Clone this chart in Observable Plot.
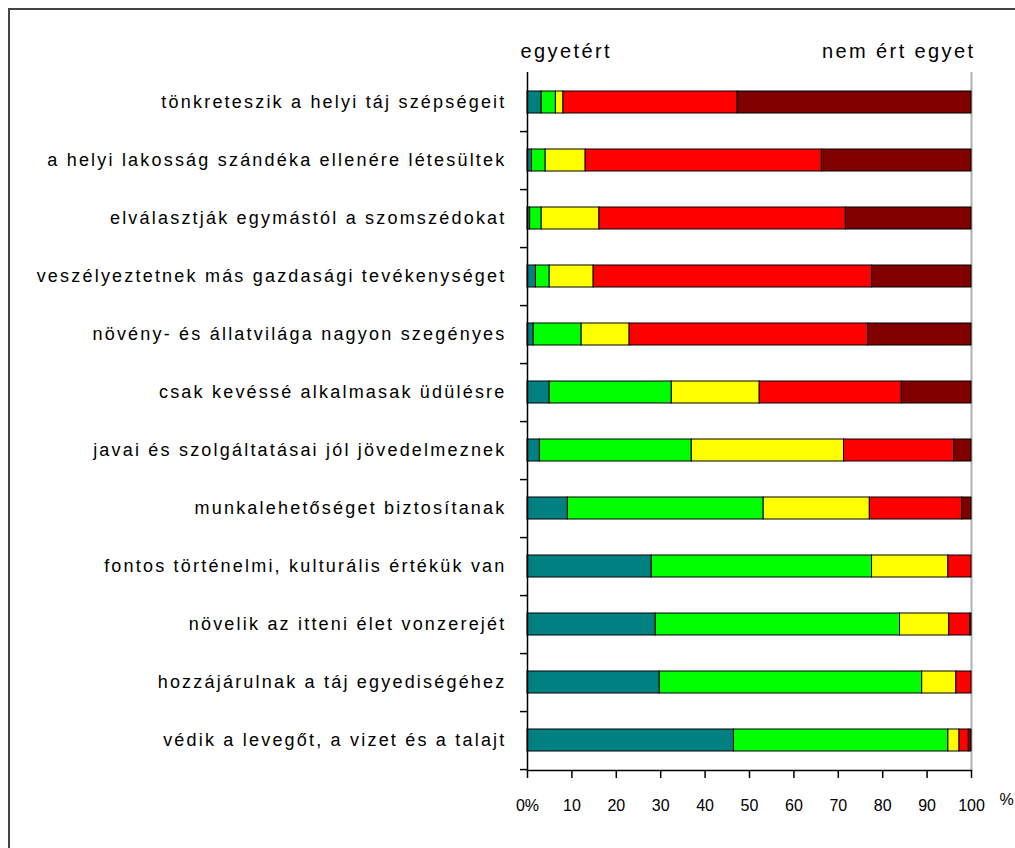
<!DOCTYPE html>
<html><head><meta charset="utf-8">
<script src="https://cdn.jsdelivr.net/npm/d3@7"></script>
<script src="https://cdn.jsdelivr.net/npm/@observablehq/plot@0.6"></script>
<style>
body{margin:0;background:#fff;overflow:hidden;}
#wrap{position:relative;width:1015px;height:848px;overflow:hidden;}
#border{position:absolute;left:8px;top:8px;width:1100px;height:900px;border:2px solid #444;box-sizing:border-box;}
#chart{position:absolute;left:0;top:0;}
</style></head><body><div id="wrap"><div id="border"></div><div id="chart"></div></div>
<script>
const categories = [
  "tönkreteszik a helyi táj szépségeit",
  "a helyi lakosság szándéka ellenére létesültek",
  "elválasztják egymástól a szomszédokat",
  "veszélyeztetnek más gazdasági tevékenységet",
  "növény- és állatvilága nagyon szegényes",
  "csak kevéssé alkalmasak üdülésre",
  "javai és szolgáltatásai jól jövedelmeznek",
  "munkalehetőséget biztosítanak",
  "fontos történelmi, kulturális értékük van",
  "növelik az itteni élet vonzerejét",
  "hozzájárulnak a táj egyediségéhez",
  "védik a levegőt, a vizet és a talajt"
];
const seriesNames = ["1", "2", "3", "4", "5"];
const s1 = [3.2, 1.0, 0.6, 1.9, 1.4, 5.0, 2.8, 9.1, 28.0, 28.9, 29.8, 46.5];
const s2 = [3.2, 3.1, 2.6, 3.1, 10.8, 27.5, 34.2, 44.1, 49.6, 55.0, 59.1, 48.3];
const s3 = [1.7, 9.0, 13.0, 9.9, 10.8, 19.8, 34.3, 23.9, 17.2, 11.1, 7.7, 2.5];
const s4 = [39.2, 53.2, 55.5, 62.7, 53.7, 32.0, 24.8, 20.8, 5.2, 4.7, 3.4, 2.1];
const s5 = [52.7, 33.7, 28.3, 22.4, 23.3, 15.7, 3.9, 2.1, 0, 0.3, 0, 0.6];
const colors = ["#008080", "#00ff00", "#ffff00", "#ff0000", "#800000"];
const xTicks = [0, 10, 20, 30, 40, 50, 60, 70, 80, 90, 100];
const xTickLabels = ["0%", "10", "20", "30", "40", "50", "60", "70", "80", "90", "100"];
const headerLeft = "egyetért";
const headerRight = "nem ért egyet";
const unitLabel = "%";

const series = [s1, s2, s3, s4, s5];
const rows = [];
categories.forEach((c, i) => series.forEach((s, j) => {
  if (s[i] > 0) rows.push({cat: c, series: seriesNames[j], value: s[i]});
}));

const marginTop = 72, marginBottom = 78, H = 848;
const step = (H - marginTop - marginBottom) / categories.length;

const chart = Plot.plot({
  width: 1015, height: H,
  marginLeft: 527, marginRight: 44, marginTop, marginBottom,
  style: {fontFamily: "'Liberation Sans', Arial, sans-serif", color: "#000", background: "transparent", overflow: "visible"},
  x: {domain: [0, 100]},
  y: {domain: categories, paddingInner: 0.62, paddingOuter: 0.31},
  color: {domain: seriesNames, range: colors},
  marks: [
    Plot.ruleX([100], {stroke: "#b0b0b0", strokeWidth: 2}),
    Plot.barX(rows, Plot.stackX({y: "cat", x: "value", fill: "series", stroke: "#000", strokeWidth: 1})),
    Plot.ruleX([0], {stroke: "#000", strokeWidth: 1.5}),
    Plot.frame({anchor: "bottom", stroke: "#000", strokeWidth: 1.5}),
    Plot.axisY({tickSize: 7, text: null, dy: step / 2, label: null, stroke: "#000", strokeWidth: 1.5}),
    Plot.axisY({tickSize: 0, tickPadding: 21, fontSize: 18, label: null}),
    Plot.axisX({ticks: xTicks, tickFormat: d => xTickLabels[xTicks.indexOf(d)], tickSize: 8, tickPadding: 21, fontSize: 16, label: null, strokeWidth: 1.5}),
    Plot.text([headerLeft], {x: () => 0, frameAnchor: "top", dy: -29, dx: -7, textAnchor: "start", fontSize: 20}),
    Plot.text([headerRight], {x: () => 100, frameAnchor: "top", dy: -29, dx: 4, textAnchor: "end", fontSize: 20}),
    Plot.text([unitLabel], {x: () => 100, frameAnchor: "bottom", dy: 34, dx: 28, textAnchor: "start", fontSize: 16})
  ]
});
document.getElementById("chart").appendChild(chart);
d3.select(chart).selectAll('g[aria-label="y-axis tick label"] text').style("letter-spacing", "2.2px");
d3.select(chart).selectAll('g[aria-label="text"] text').filter(function(){ return this.textContent !== unitLabel; }).style("letter-spacing", "2.4px");
</script>
</body></html>
